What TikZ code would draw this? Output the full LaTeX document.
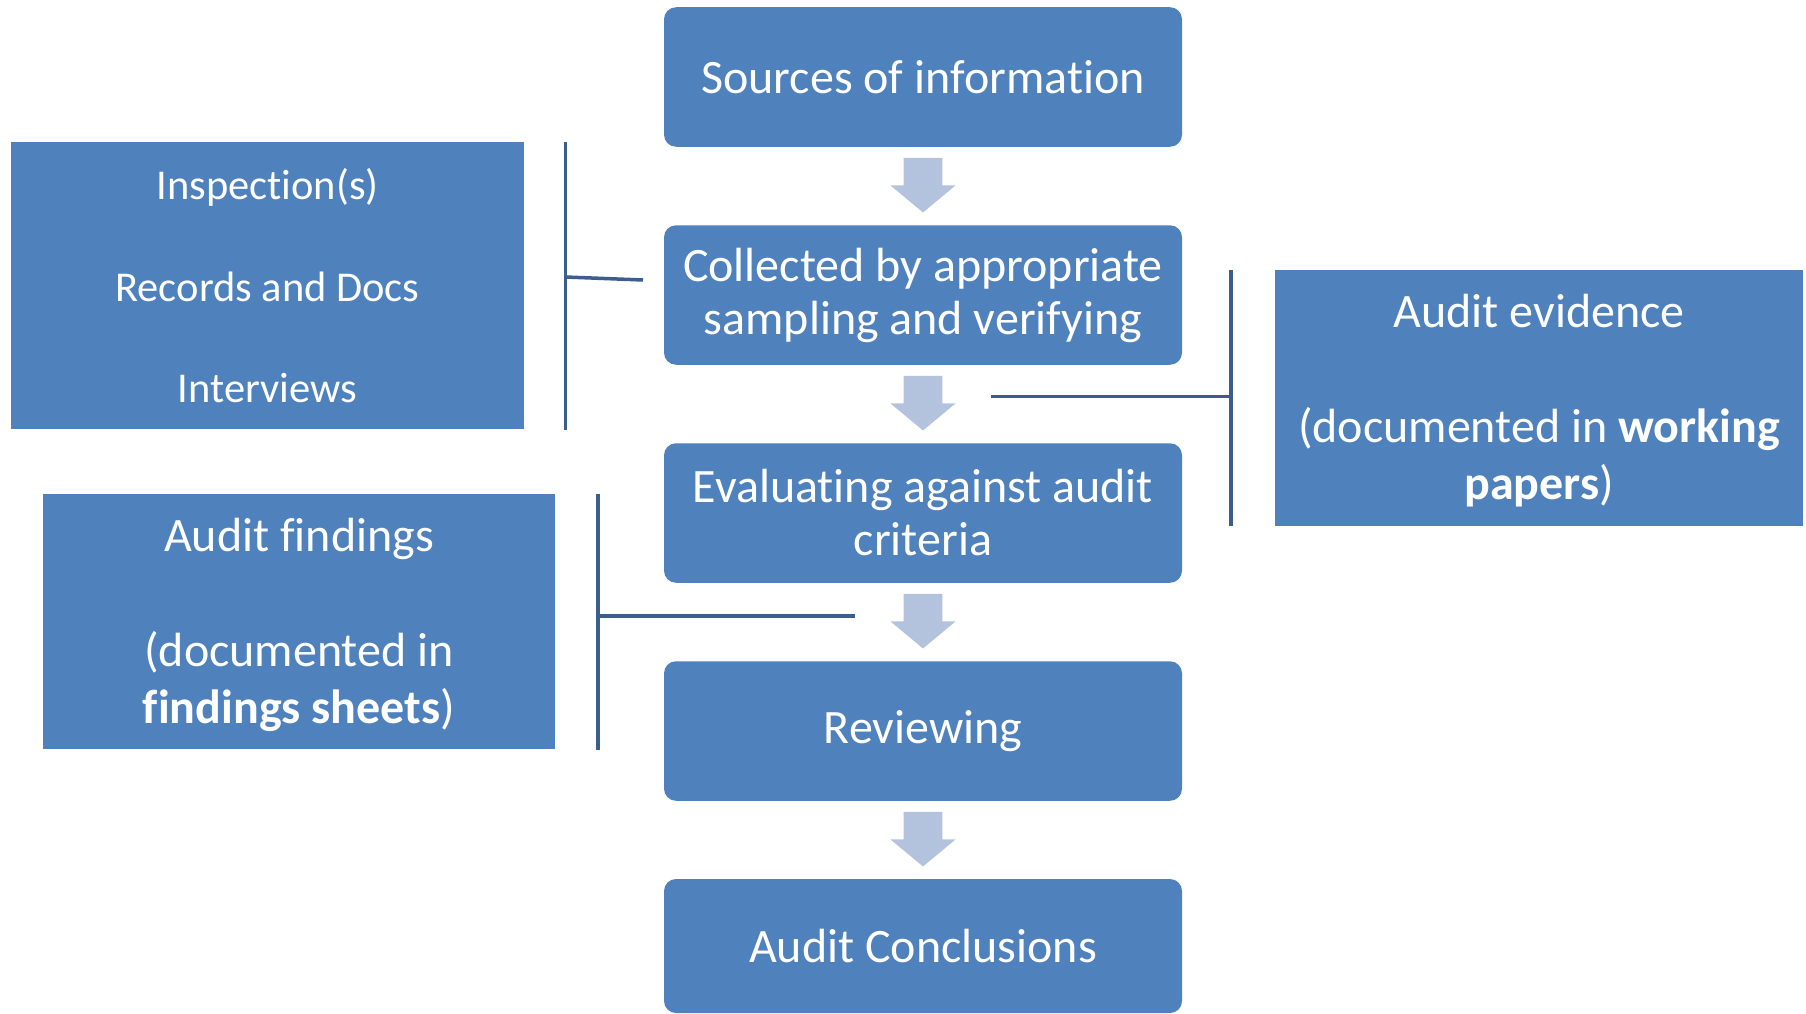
\documentclass[tikz,border=0pt]{standalone}
\usepackage{fontspec}
\setmainfont{Carlito}[Ligatures={NoCommon}]
\usetikzlibrary{calc}
\definecolor{boxblue}{HTML}{4F81BD}
\definecolor{linkblue}{HTML}{3B5E8C}
\definecolor{arrowblue}{HTML}{B3C3DE}
\begin{document}
\begin{tikzpicture}[x=1pt,y=-1pt,
  stepbox/.style={fill=boxblue, rounded corners=12pt, minimum width=518pt, minimum height=139.5pt,
    inner sep=0pt, text=white, align=center, font=\fontsize{48}{53}\selectfont},
  sidebox/.style={fill=boxblue, inner sep=0pt, text=white, align=center},
  bracket/.style={draw=linkblue, line width=3.5pt},
  flowarrow/.style={fill=arrowblue}]
\useasboundingbox (0,0) rectangle (1806,1014);
\fill[white] (0,0) rectangle (1806,1014);

% central steps
\node[stepbox] (s1) at (923,77) {Sources of information};
\node[stepbox] (s2) at (923,295) {Collected by appropriate\\sampling and verifying};
\node[stepbox] (s3) at (923,513) {Evaluating against audit\\criteria};
\node[stepbox] (s4) at (923,731) {Reviewing};
\node[stepbox, minimum height=134pt] (s5) at (923,946) {Audit Conclusions};

% block arrows between steps
\foreach \a in {s1,s2,s3,s4}{
  \fill[flowarrow] ($(\a.south)+(-19.3,11)$) -- ($(\a.south)+(19.3,11)$)
    -- ($(\a.south)+(19.3,38.5)$) -- ($(\a.south)+(32.5,38.5)$)
    -- ($(\a.south)+(0,65.5)$) -- ($(\a.south)+(-32.5,38.5)$)
    -- ($(\a.south)+(-19.3,38.5)$) -- cycle;
}

% side boxes
\node[sidebox, minimum width=513pt, minimum height=287pt,
  font=\fontsize{42.5}{50.7}\selectfont] (src) at (267.5,285.8)
  {Inspection(s)\\[50.7pt]Records and Docs\\[50.7pt]Interviews};
\node[sidebox, minimum width=528pt, minimum height=255.7pt, text depth=2pt,
  font=\fontsize{48}{57.5}\selectfont] (evid) at (1539,397.9)
  {Audit evidence\\[57.5pt](documented in \textbf{working}\\\textbf{papers})};
\node[sidebox, minimum width=512pt, minimum height=255.3pt, text depth=2pt,
  font=\fontsize{48}{57.5}\selectfont] (find) at (299,621.7)
  {Audit findings\\[57.5pt](documented in\\\textbf{findings sheets})};

% brackets
\coordinate (b1t) at ($(src.north east)+(41.5,0)$);
\coordinate (b1b) at ($(src.south east)+(41.5,0)$);
\coordinate (b1m) at (565.5,277);
\coordinate (b1e) at (643,280);
\draw[bracket] (b1t) -- (b1b);
\draw[bracket] (b1m) -- (b1e);

\coordinate (b2t) at ($(evid.north west)+(-44,0)$);
\coordinate (b2b) at ($(evid.south west)+(-44,0)$);
\coordinate (b2m) at (1231,396.7);
\coordinate (b2e) at (991,396.7);
\draw[bracket] (b2t) -- (b2b);
\draw[bracket] (b2m) -- (b2e);

\coordinate (b3t) at ($(find.north east)+(43,0)$);
\coordinate (b3b) at ($(find.south east)+(43,0)$);
\coordinate (b3m) at (598,616);
\coordinate (b3e) at (854.5,616);
\draw[bracket] (b3t) -- (b3b);
\draw[bracket] (b3m) -- (b3e);
\end{tikzpicture}
\end{document}
